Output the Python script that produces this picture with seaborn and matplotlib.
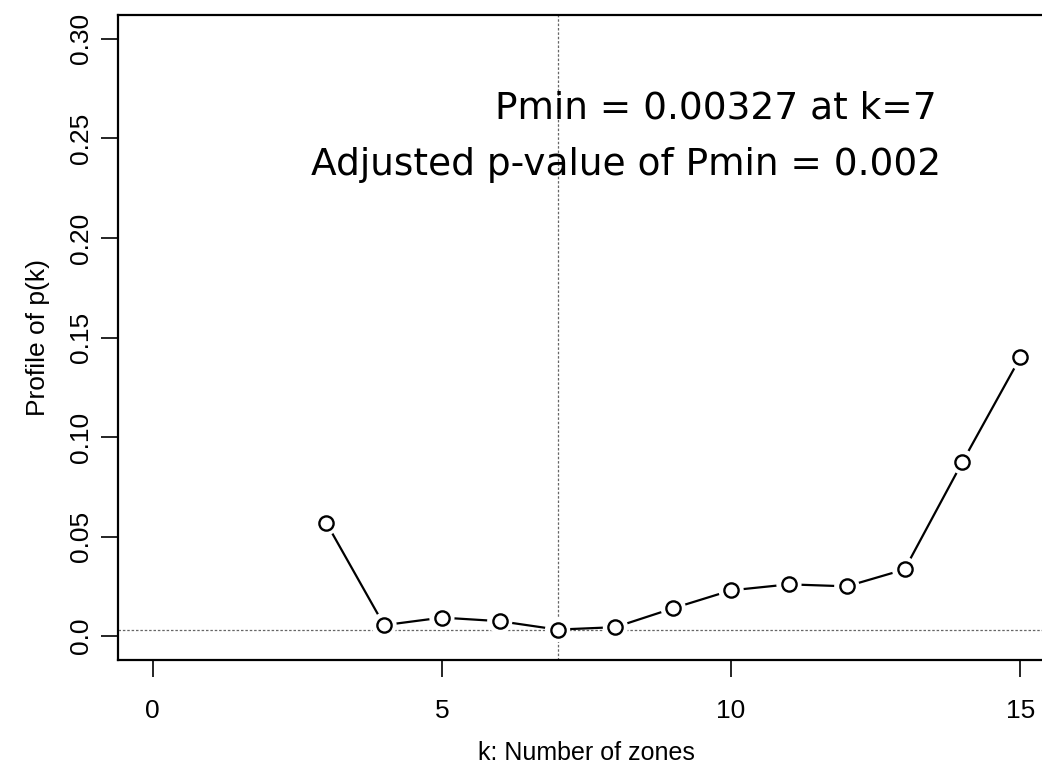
import pandas as pd
import seaborn as sns
import matplotlib.pyplot as plt

# values
k_values = [3, 4, 5, 6, 7, 8, 9, 10, 11, 12, 13, 14, 15]
p_values = [0.057, 0.0055, 0.0093, 0.0075, 0.00327, 0.0045, 0.014, 0.023,
            0.026, 0.025, 0.0335, 0.0875, 0.140]
pmin = 0.00327
k_best = 7
x_ticks = [0, 5, 10, 15]
y_ticks = [0.0, 0.05, 0.10, 0.15, 0.20, 0.25, 0.30]
y_tick_labels = ['0.0', '0.05', '0.10', '0.15', '0.20', '0.25', '0.30']

df = pd.DataFrame({'k': k_values, 'p': p_values})

sns.set_style('ticks')
plt.rcParams['font.family'] = ['Liberation Sans', 'DejaVu Sans']
plt.rcParams['text.color'] = 'black'
plt.rcParams['axes.labelcolor'] = 'black'
plt.rcParams['xtick.color'] = 'black'
plt.rcParams['ytick.color'] = 'black'

fig = plt.figure(figsize=(10.42, 7.78), dpi=100)
ax = fig.add_axes([118 / 1042, 118 / 778, 937 / 1042, 645 / 778])

# reference lines at the minimum
ax.axhline(pmin, color='0.4', lw=0.9, ls=(0, (2, 1.5)), zorder=1)
ax.axvline(k_best, color='0.4', lw=0.9, ls=(0, (2, 1.5)), zorder=1)

# R type="b": line with gaps around the points
sns.lineplot(data=df, x='k', y='p', color='black', lw=1.6, ax=ax, zorder=2)
sns.scatterplot(data=df, x='k', y='p', s=330, color='white', edgecolor='none',
                ax=ax, zorder=3)
sns.scatterplot(data=df, x='k', y='p', s=105, facecolor='white', edgecolor='black',
                linewidth=1.7, ax=ax, zorder=4)

ax.set_xlim(-0.6, 15.6)
ax.set_ylim(-0.012, 0.312)
ax.set_xticks(x_ticks)
ax.set_yticks(y_ticks)
ax.set_yticklabels(y_tick_labels, rotation=90, va='center')
ax.tick_params(axis='both', direction='out', length=12, width=1.2,
               labelsize=19)
ax.tick_params(axis='x', pad=16)
ax.tick_params(axis='y', pad=6)
for s in ax.spines.values():
    s.set_linewidth(1.6)
    s.set_color('black')

ax.set_xlabel('k: Number of zones', fontsize=18, labelpad=13)
ax.set_ylabel('Profile of p(k)', fontsize=19, labelpad=14)

ax.text(13.55, 0.265, 'Pmin = 0.00327 at k=7', fontsize=27, ha='right',
        va='center', family='DejaVu Sans')
ax.text(13.63, 0.2365, 'Adjusted p-value of Pmin = 0.002', fontsize=27,
        ha='right', va='center', family='DejaVu Sans')

plt.savefig('out.png', dpi=100)
